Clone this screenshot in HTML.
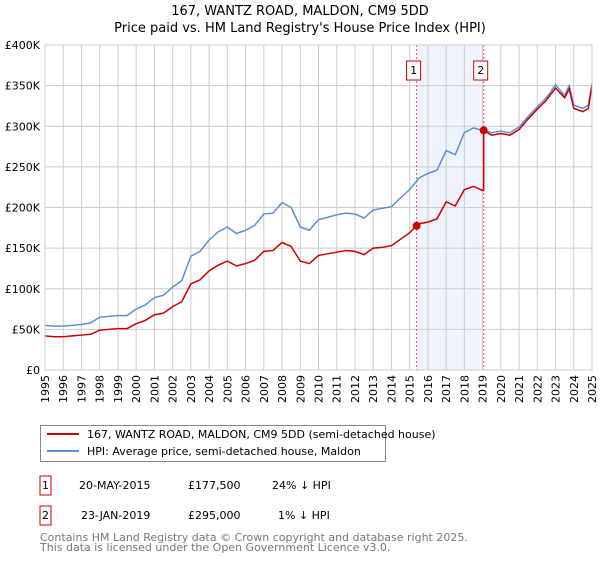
<!DOCTYPE html>
<html><head><meta charset="utf-8"><style>
body{margin:0;background:#fff;font-family:"DejaVu Sans","Liberation Sans",sans-serif;}
svg text{font-family:"DejaVu Sans","Liberation Sans",sans-serif;}
</style></head><body>
<svg id="c" width="600" height="560" xmlns="http://www.w3.org/2000/svg">
<text x="300" y="15" text-anchor="middle" font-size="13">167, WANTZ ROAD, MALDON, CM9 5DD</text>
<text x="300" y="32" text-anchor="middle" font-size="13">Price paid vs. HM Land Registry's House Price Index (HPI)</text>
<g id="plot"></g>
<g>
<rect x="40.5" y="425.5" width="345" height="36" fill="#fff" stroke="#888"/>
<line x1="47" y1="434" x2="79" y2="434" stroke="#cc0000" stroke-width="2"/>
<text x="87" y="438" font-size="11">167, WANTZ ROAD, MALDON, CM9 5DD (semi-detached house)</text>
<line x1="47" y1="451" x2="79" y2="451" stroke="#5b8fd4" stroke-width="2"/>
<text x="87" y="455" font-size="11">HPI: Average price, semi-detached house, Maldon</text>
</g>
<g font-size="11">
<rect x="40" y="476" width="11" height="19" fill="none" stroke="#cc0000"/>
<text x="45.5" y="489" text-anchor="middle">1</text>
<text x="79" y="489">20-MAY-2015</text><text x="188" y="489">£177,500</text><text x="272" y="489">24% ↓ HPI</text>
<rect x="40" y="506" width="11" height="19" fill="none" stroke="#cc0000"/>
<text x="45.5" y="519" text-anchor="middle">2</text>
<text x="81" y="519">23-JAN-2019</text><text x="188" y="519">£295,000</text><text x="278" y="519">1% ↓ HPI</text>
</g>
<text x="40" y="541" font-size="11" fill="#777">Contains HM Land Registry data © Crown copyright and database right 2025.</text>
<text x="40" y="551" font-size="11" fill="#777">This data is licensed under the Open Government Licence v3.0.</text>
</svg>
<script>
const hpiYears=[1995,1995.5,1996,1996.5,1997,1997.5,1998,1998.5,1999,1999.5,2000,2000.5,2001,2001.5,2002,2002.5,2003,2003.5,2004,2004.5,2005,2005.5,2006,2006.5,2007,2007.5,2008,2008.5,2009,2009.5,2010,2010.5,2011,2011.5,2012,2012.5,2013,2013.5,2014,2014.5,2015,2015.5,2016,2016.5,2017,2017.5,2018,2018.5,2019,2019.5,2020,2020.5,2021,2021.5,2022,2022.5,2023,2023.5,2023.75,2024,2024.5,2024.8,2025];
const hpiValues=[55,54,54,55,56,58,65,66,67,67,75,80,89,92,102,110,140,146,160,170,176,168,172,178,192,193,206,200,176,172,185,188,191,193,192,187,197,199,201,212,222,236,242,246,270,265,292,298,295,292,294,292,299,312,324,335,351,338,350,326,322,326,353];
const priceYears=[1995,1995.5,1996,1996.5,1997,1997.5,1998,1998.5,1999,1999.5,2000,2000.5,2001,2001.5,2002,2002.5,2003,2003.5,2004,2004.5,2005,2005.5,2006,2006.5,2007,2007.5,2008,2008.5,2009,2009.5,2010,2010.5,2011,2011.5,2012,2012.5,2013,2013.5,2014,2014.5,2015,2015.38,2015.5,2016,2016.5,2017,2017.5,2018,2018.5,2019,2019.06,2019.06,2019.5,2020,2020.5,2021,2021.5,2022,2022.5,2023,2023.5,2023.75,2024,2024.5,2024.8,2025];
const priceValues=[42,41,41,42,43,44,49,50,51,51,57,61,68,70,78,84,106,111,122,129,134,128,131,135,146,147,157,152,134,131,141,143,145,147,146,142,150,151,153,161,169,177.5,180,182,186,207,202,222,226,221,221,295,289,291,289,296,309,321,332,347,335,346,322,318,322,350];
const saleYears=[2015.38,2019.06];
const salePrices=[177.5,295];
const saleLabels=["1","2"];
const yTicks=[0,50,100,150,200,250,300,350,400];
const yTickLabels=["£0","£50K","£100K","£150K","£200K","£250K","£300K","£350K","£400K"];
const NS="http://www.w3.org/2000/svg";
const X0=45,X1=592,Y0=370,Y1=45,XMIN=1995,XMAX=2025,YMAX=400;
const xs=v=>X0+(v-XMIN)/(XMAX-XMIN)*(X1-X0);
const ys=v=>Y0-v/YMAX*(Y0-Y1);
const g=document.getElementById('plot');
function mk(t,a){const e=document.createElementNS(NS,t);for(const k in a)e.setAttribute(k,a[k]);g.appendChild(e);return e;}
const band=mk('rect',{x:xs(saleYears[0]),y:Y1,width:xs(saleYears[1])-xs(saleYears[0]),height:Y0-Y1,fill:'#eef3fc'});


for(let yr=XMIN;yr<=XMAX;yr++){
 const l=mk('line',{x1:xs(yr),x2:xs(yr),y1:Y1,y2:Y0,stroke:'#ccc'});
 
 
 const t=mk('text',{x:0,y:0,'font-size':11,'text-anchor':'end',transform:`translate(${xs(yr)+4},375) rotate(-90)`});
 t.textContent=yr;
 
 
}
yTicks.forEach((v,i)=>{
 const l=mk('line',{x1:X0,x2:X1,y1:ys(v),y2:ys(v),stroke:'#ccc'});
 
 
 const t=mk('text',{x:40,y:ys(v)+4,'font-size':11,'text-anchor':'end'});
 t.textContent=yTickLabels[i];
 
 
});
saleYears.forEach((yr,i)=>{
 const l=mk('line',{x1:xs(yr),x2:xs(yr),y1:Y1,y2:Y0,stroke:'#e06060','stroke-dasharray':'2,2'});
 
 
});
const hp=mk('polyline',{points:hpiYears.map((y,i)=>xs(y)+','+ys(hpiValues[i])).join(' '),fill:'none',stroke:'#5b8fd4','stroke-width':1.5});


const pp=mk('polyline',{points:priceYears.map((y,i)=>xs(y)+','+ys(priceValues[i])).join(' '),fill:'none',stroke:'#cc0000','stroke-width':1.5});


saleYears.forEach((yr,i)=>{
 const c=mk('circle',{cx:xs(yr),cy:ys(salePrices[i]),r:4,fill:'#cc0000'});
 
 
 const r=mk('rect',{x:xs(yr)-10,y:61,width:14,height:19,fill:'#fff',stroke:'#cc0000'});
 
 
 const t=mk('text',{x:xs(yr)-3,y:74,'font-size':11,'text-anchor':'middle'});
 t.textContent=saleLabels[i];
 
 
});
const b=mk('rect',{x:X0,y:Y1,width:X1-X0,height:Y0-Y1,fill:'none',stroke:'#ccc'});


</script>
</body></html>
